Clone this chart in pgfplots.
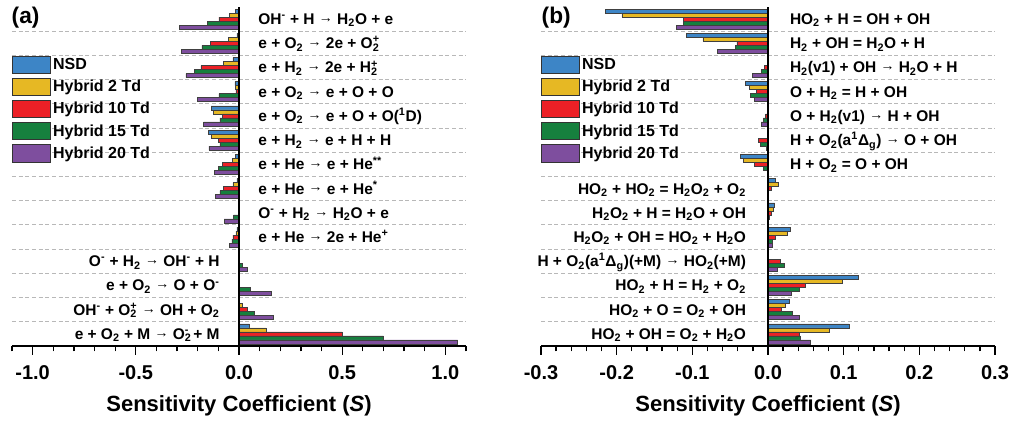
\documentclass[border=0pt]{standalone}
\usepackage{pgfplots}
\pgfplotsset{compat=1.18}
\usepackage{pgfplotstable}
\usepackage{fontspec}
\setmainfont{Liberation Sans}

\definecolor{cNSD}{RGB}{61,133,198}
\definecolor{cH2}{RGB}{230,184,36}
\definecolor{cH10}{RGB}{236,32,38}
\definecolor{cH15}{RGB}{22,128,62}
\definecolor{cH20}{RGB}{126,78,158}

% sub- and superscript stacked
\newcommand{\sbsp}[2]{\rlap{\textsubscript{#1}}\textsuperscript{#2}}
\newcommand{\lab}{\fontsize{11.6}{14}\selectfont\bfseries}
\newcommand{\ra}{\raisebox{1.6pt}{\fontsize{10.5}{10.5}\selectfont →}}

% panel (a): y = 13 is the top reaction
\pgfplotstableread{
y   nsd     h2      h10     h15     h20
13  -0.016  -0.045  -0.098  -0.155  -0.290
12  -0.010  -0.051  -0.140  -0.180  -0.280
11  -0.030  -0.074  -0.185  -0.217  -0.257
10  -0.020  -0.018  -0.015  -0.098  -0.200
9   -0.135  -0.125  -0.080  -0.093  -0.172
8   -0.148  -0.135  -0.100  -0.093  -0.146
7   -0.016  -0.032  -0.080  -0.101  -0.120
6   -0.010  -0.030  -0.074  -0.093  -0.113
5   -0.002  -0.002  -0.002  -0.026  -0.072
4   -0.010  -0.015  -0.030  -0.035  -0.045
3   0.000   0.000   0.001   0.015   0.039
2   0.000   0.000   0.000   0.055   0.158
1   0.003   0.015   0.039   0.074   0.168
0   0.050   0.130   0.500   0.700   1.060
}\dataA

% panel (b)
\pgfplotstableread{
y   nsd     h2      h10     h15     h20
13  -0.2145 -0.193  -0.112  -0.112  -0.121
12  -0.108  -0.086  -0.041  -0.043  -0.067
11  -0.001  -0.001  -0.005  -0.009  -0.021
10  -0.030  -0.025  -0.015  -0.023  -0.0175
9   -0.001  -0.001  -0.003  -0.006  -0.009
8   -0.001  -0.001  -0.0127 -0.010  -0.002
7   -0.037  -0.033  -0.018  -0.0066 -0.001
6   0.0102  0.0141  0.0044  0.000   0.000
5   0.0088  0.0075  0.004   0.0015  0.000
4   0.030   0.026   0.009   0.006   0.0057
3   0.000   0.000   0.016   0.0216  0.0124
2   0.1187  0.0977  0.0488  0.041   0.0313
1   0.0277  0.023   0.017   0.0317  0.0418
0   0.107   0.0814  0.0414  0.0427  0.0563
}\dataB

\pgfplotsset{
  sens/.style={
    scale only axis, width=340.5pt, height=254.25pt,
    xbar, bar width=3pt,
    ymin=-0.5, ymax=13.5,
    axis x line*=bottom, axis y line*=left,
    y axis line style={draw=none},
    x axis line style={line width=1pt},
    ytick={0.5,1.5,...,12.5}, yticklabels={}, ytick style={draw=none},
    ymajorgrids,
    major grid style={black!28, dash pattern=on 3pt off 2pt, line width=0.8pt},
    tick align=outside,
    major tick length=6.5pt, minor tick length=4pt,
    xtick style={black, line width=1pt},
    xticklabel style={font=\fontsize{15}{17}\selectfont\bfseries, yshift=-4.5pt},
    /pgf/number format/.cd, fixed, fixed zerofill, precision=1, assume math mode=true, /pgfplots/.cd,
    xlabel={Sensitivity Coefficient (\textit{S})},
    xlabel style={font=\fontsize{16.5}{19}\selectfont\bfseries,
      at={(axis description cs:0.5,0)}, anchor=center, yshift=-44.6pt},
    legend style={draw=none, fill=none, at={(0,0.858)}, anchor=north west,
      font=\fontsize{12}{14}\selectfont\bfseries, row sep=2.5pt, inner sep=0pt},
    legend cell align=left,
    legend image code/.code={\draw[#1, draw=black!80, line width=0.6pt] (0pt,-6.5pt) rectangle (28pt,6.5pt);},
    clip=false,
  },
  b/.style={draw=black!75, line width=0.4pt, fill=#1},
}
\tikzset{
  rl/.style={anchor=base west, font=\lab, yshift=-4.1pt},
  ll/.style={anchor=base east, font=\lab, yshift=-4.1pt},
}

\begin{document}
\bfseries
\begin{tikzpicture}
\begin{axis}[sens, at={(9pt,56.25pt)}, anchor=south west,
  xmin=-1.1, xmax=1.1,
  xtick={-1,-0.5,0,0.5,1},
  minor xtick={-1.1,-0.9,-0.8,-0.7,-0.6,-0.4,-0.3,-0.2,-0.1,0.1,0.2,0.3,0.4,0.6,0.7,0.8,0.9,1.1}]
\addplot[b=cNSD, bar shift=6pt] table[x=nsd, y=y] {\dataA};
\addplot[b=cH2,  bar shift=3pt] table[x=h2,  y=y] {\dataA};
\addplot[b=cH10, bar shift=0pt] table[x=h10, y=y] {\dataA};
\addplot[b=cH15, bar shift=-3pt] table[x=h15, y=y] {\dataA};
\addplot[b=cH20, bar shift=-6pt] table[x=h20, y=y] {\dataA};
\legend{NSD, Hybrid 2 Td, Hybrid 10 Td, Hybrid 15 Td, Hybrid 20 Td}
\draw[line width=1pt] (axis cs:0,-0.5) -- (axis cs:0,13.5);
\node[rl, xshift=11pt] at (axis cs:0,13) {OH\textsuperscript{-} + H \ra{} H\textsubscript{2}O + e};
\node[rl, xshift=11pt] at (axis cs:0,12) {e + O\textsubscript{2} \ra{} 2e + O\sbsp{2}{+}};
\node[rl, xshift=11pt] at (axis cs:0,11) {e + H\textsubscript{2} \ra{} 2e + H\sbsp{2}{+}};
\node[rl, xshift=11pt] at (axis cs:0,10) {e + O\textsubscript{2} \ra{} e + O + O};
\node[rl, xshift=11pt] at (axis cs:0,9) {e + O\textsubscript{2} \ra{} e + O + O(\textsuperscript{1}D)};
\node[rl, xshift=11pt] at (axis cs:0,8) {e + H\textsubscript{2} \ra{} e + H + H};
\node[rl, xshift=11pt] at (axis cs:0,7) {e + He \ra{} e + He\textsuperscript{**}};
\node[rl, xshift=11pt] at (axis cs:0,6) {e + He \ra{} e + He\textsuperscript{*}};
\node[rl, xshift=11pt] at (axis cs:0,5) {O\textsuperscript{-} + H\textsubscript{2} \ra{} H\textsubscript{2}O + e};
\node[rl, xshift=11pt] at (axis cs:0,4) {e + He \ra{} 2e + He\textsuperscript{+}};
\node[ll, xshift=-11pt] at (axis cs:0,3) {O\textsuperscript{-} + H\textsubscript{2} \ra{} OH\textsuperscript{-} + H};
\node[ll, xshift=-11pt] at (axis cs:0,2) {e + O\textsubscript{2} \ra{} O + O\textsuperscript{-}};
\node[ll, xshift=-11pt] at (axis cs:0,1) {OH\textsuperscript{-} + O\sbsp{2}{+} \ra{} OH + O\textsubscript{2}};
\node[ll, xshift=-11pt] at (axis cs:0,0) {e + O\textsubscript{2} + M \ra{} O\sbsp{2}{-} + M};
\end{axis}

\begin{axis}[sens, at={(405.75pt,56.25pt)}, anchor=south west,
  xmin=-0.3, xmax=0.3,
  xtick={-0.3,-0.2,-0.1,0,0.1,0.2,0.3},
  minor xtick={-0.28,-0.26,-0.24,-0.22,-0.18,-0.16,-0.14,-0.12,-0.08,-0.06,-0.04,-0.02,0.02,0.04,0.06,0.08,0.12,0.14,0.16,0.18,0.22,0.24,0.26,0.28}]
\addplot[b=cNSD, bar shift=6pt] table[x=nsd, y=y] {\dataB};
\addplot[b=cH2,  bar shift=3pt] table[x=h2,  y=y] {\dataB};
\addplot[b=cH10, bar shift=0pt] table[x=h10, y=y] {\dataB};
\addplot[b=cH15, bar shift=-3pt] table[x=h15, y=y] {\dataB};
\addplot[b=cH20, bar shift=-6pt] table[x=h20, y=y] {\dataB};
\legend{NSD, Hybrid 2 Td, Hybrid 10 Td, Hybrid 15 Td, Hybrid 20 Td}
\draw[line width=1pt] (axis cs:0,-0.5) -- (axis cs:0,13.5);
\node[rl, xshift=13pt] at (axis cs:0,13) {HO\textsubscript{2} + H = OH + OH};
\node[rl, xshift=13pt] at (axis cs:0,12) {H\textsubscript{2} + OH = H\textsubscript{2}O + H};
\node[rl, xshift=13pt] at (axis cs:0,11) {H\textsubscript{2}(v1) + OH \ra{} H\textsubscript{2}O + H};
\node[rl, xshift=13pt] at (axis cs:0,10) {O + H\textsubscript{2} = H + OH};
\node[rl, xshift=13pt] at (axis cs:0,9) {O + H\textsubscript{2}(v1) \ra{} H + OH};
\node[rl, xshift=13pt] at (axis cs:0,8) {H + O\textsubscript{2}(a\textsuperscript{1}Δ\textsubscript{g}) \ra{} O + OH};
\node[rl, xshift=13pt] at (axis cs:0,7) {H + O\textsubscript{2} = O + OH};
\node[ll, xshift=-13pt] at (axis cs:0,6) {HO\textsubscript{2} + HO\textsubscript{2} = H\textsubscript{2}O\textsubscript{2} + O\textsubscript{2}};
\node[ll, xshift=-13pt] at (axis cs:0,5) {H\textsubscript{2}O\textsubscript{2} + H = H\textsubscript{2}O + OH};
\node[ll, xshift=-13pt] at (axis cs:0,4) {H\textsubscript{2}O\textsubscript{2} + OH = HO\textsubscript{2} + H\textsubscript{2}O};
\node[ll, xshift=-13pt] at (axis cs:0,3) {H + O\textsubscript{2}(a\textsuperscript{1}Δ\textsubscript{g})(+M) \ra{} HO\textsubscript{2}(+M)};
\node[ll, xshift=-13pt] at (axis cs:0,2) {HO\textsubscript{2} + H = H\textsubscript{2} + O\textsubscript{2}};
\node[ll, xshift=-13pt] at (axis cs:0,1) {HO\textsubscript{2} + O = O\textsubscript{2} + OH};
\node[ll, xshift=-13pt] at (axis cs:0,0) {HO\textsubscript{2} + OH = O\textsubscript{2} + H\textsubscript{2}O};
\end{axis}

\node[anchor=west, font=\fontsize{17}{20}\selectfont\bfseries] at (5.25pt,302.6pt) {(a)};
\node[anchor=west, font=\fontsize{17}{20}\selectfont\bfseries] at (402.75pt,302.6pt) {(b)};
\pgfresetboundingbox
\path (0,0) rectangle (760.5pt,315.75pt);
\end{tikzpicture}
\end{document}
